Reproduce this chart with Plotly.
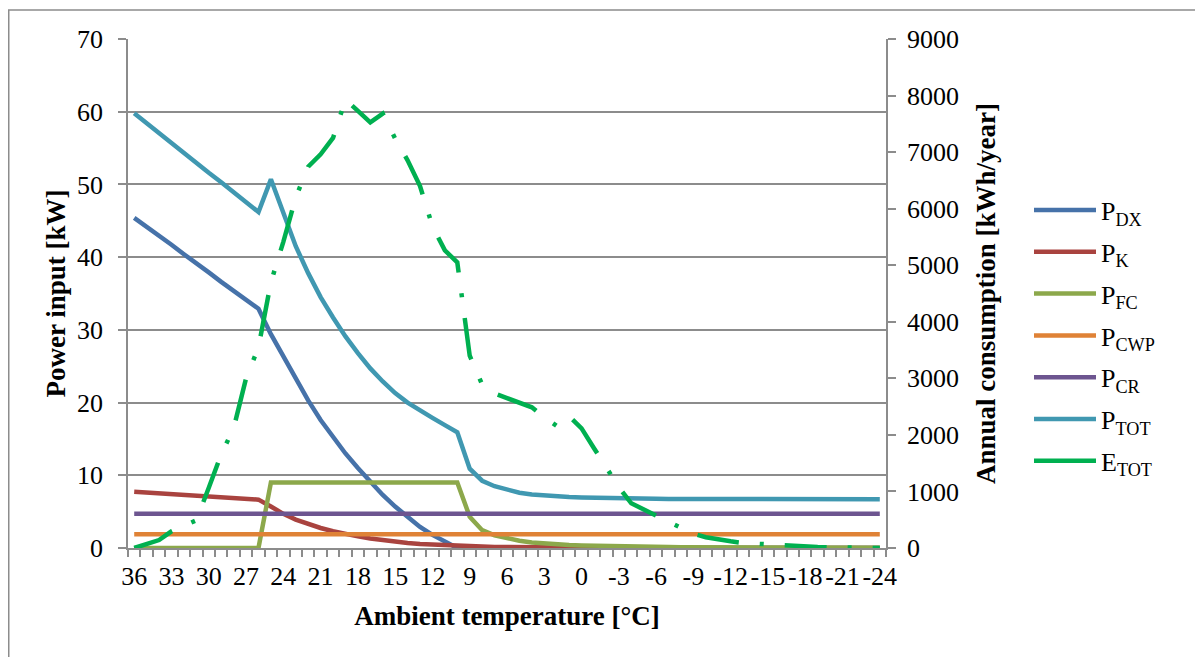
import plotly.graph_objects as go

# ---------------- data ----------------
temps = [36, 35, 34, 33, 32, 31, 30, 29, 28, 27, 26,
         25, 24, 23, 22, 21, 20, 19, 18, 17, 16, 15, 14, 13, 12, 11, 10,
         9, 8, 7, 6, 5, 4, 3, 2, 1, 0,
         -1, -2, -3, -4, -5, -6, -7, -8, -9, -10, -11, -12,
         -13, -14, -15, -16, -17, -18, -19, -20, -21, -22, -23, -24]

tick_vals = [36, 33, 30, 27, 24, 21, 18, 15, 12, 9, 6, 3, 0,
             -3, -6, -9, -12, -15, -18, -21, -24]
tick_text = ["36", "33", "30", "27", "24", "21", "18", "15", "12", "9", "6", "3", "0",
             "-3", "-6", "-9", "-12", "-15", "-18", "-21", "-24"]

p_dx = [45.4, 44.2, 42.9, 41.7, 40.4, 39.2, 37.9, 36.6, 35.4, 34.1, 32.9,
        29.4, 26.3, 23.2, 20.3, 17.6, 15.2, 13.0, 11.0, 9.1, 7.3, 5.7, 4.2, 2.9, 1.8, 0.85, 0.0,
        0, 0, 0, 0, 0, 0, 0, 0, 0, 0,
        0, 0, 0, 0, 0, 0, 0, 0, 0, 0, 0, 0,
        0, 0, 0, 0, 0, 0, 0, 0, 0, 0, 0, 0]

p_k = [7.75, 7.64, 7.53, 7.42, 7.31, 7.2, 7.09, 6.98, 6.87, 6.76, 6.65,
       5.7, 4.7, 3.9, 3.3, 2.75, 2.3, 1.9, 1.6, 1.3, 1.05, 0.85, 0.7, 0.55, 0.45, 0.35, 0.3,
       0.25, 0.2, 0.15, 0.12, 0.1, 0.08, 0.06, 0.05, 0.04, 0.03,
       0.03, 0.02, 0.02, 0.02, 0.01, 0.01, 0.01, 0.01, 0.01, 0.01, 0.01, 0.01,
       0, 0, 0, 0, 0, 0, 0, 0, 0, 0, 0, 0]

p_fc = [0, 0, 0, 0, 0, 0, 0, 0, 0, 0, 0,
        9, 9, 9, 9, 9, 9, 9, 9, 9, 9, 9, 9, 9, 9, 9, 9,
        4.3, 2.45, 1.75, 1.3, 1.0, 0.75, 0.6, 0.5, 0.42, 0.36,
        0.31, 0.27, 0.23, 0.2, 0.17, 0.15, 0.13, 0.12, 0.11, 0.1, 0.09, 0.08,
        0.07, 0.06, 0.06, 0.05, 0.05, 0.05, 0.04, 0.04, 0.04, 0.04, 0.03, 0.03]

p_cwp = [1.9] * 61
p_cr = [4.7] * 61

p_tot = [59.8, 58.4, 57.1, 55.7, 54.4, 53.0, 51.6, 50.3, 48.9, 47.6, 46.2,
         50.7, 45.9, 41.5, 37.8, 34.5, 31.7, 29.1, 26.8, 24.7, 22.9, 21.3, 20.0, 18.9, 17.9, 16.9, 15.9,
         10.9, 9.25, 8.5, 8.0, 7.6, 7.35, 7.2, 7.1, 7.0, 6.95,
         6.9, 6.86, 6.83, 6.8, 6.78, 6.76, 6.75, 6.74, 6.73, 6.72, 6.72, 6.71,
         6.71, 6.7, 6.7, 6.7, 6.7, 6.7, 6.7, 6.7, 6.7, 6.7, 6.7, 6.7]

e_tot = [0, 70, 140, 295, 390, 490, 1064, 1657, 2116, 3000, 3550,
         4700, 5413, 6200, 6743, 6960, 7250, 7930, 7730, 7527, 7680, 7240, 6855, 6400, 5690, 5263, 5050,
         3400, 2890, 2735, 2650, 2560, 2487, 2310, 2160, 2330, 2115,
         1765, 1410, 1075, 790, 684, 566, 463, 357, 251, 190, 148, 118,
         88, 74, 60, 48, 39, 25, 18, 12, 9, 5, 3, 0]

series_names = ["P<sub>DX</sub>", "P<sub>K</sub>", "P<sub>FC</sub>", "P<sub>CWP</sub>",
                "P<sub>CR</sub>", "P<sub>TOT</sub>"]
series_vals = [p_dx, p_k, p_fc, p_cwp, p_cr, p_tot]
series_colors = ["#4672A9", "#A9433F", "#8CA84B", "#DF8236", "#6D5590", "#4098B1"]
etot_color = "#00B050"

# ---------------- figure ----------------
FONT = "Liberation Serif, Times New Roman, serif"
GRID = "#8C8C8C"
# page body has an 8px margin, so the figure is 8px smaller than the window
W, H = 1195, 649
L, T = 120, 31
PW, PH = 758, 509

fig = go.Figure()
for name, vals, col in zip(series_names, series_vals, series_colors):
    fig.add_trace(go.Scatter(x=temps, y=vals, mode="lines", name=name,
                             legendgroup=name,
                             line=dict(color=col, width=4.5, shape="linear"),
                             yaxis="y"))

# E_TOT: dash-dot line on the secondary axis
fig.add_trace(go.Scatter(x=temps, y=e_tot, mode="lines", name="E<sub>TOT</sub>",
                         legendgroup="etot", showlegend=False,
                         line=dict(color=etot_color, width=4.5, dash="42px,21px,4px,21px"),
                         yaxis="y2"))
# legend key for E_TOT (a single dash, as in the reference legend)
fig.add_trace(go.Scatter(x=[None], y=[None], mode="lines", name="E<sub>TOT</sub>",
                         legendgroup="etot", showlegend=True,
                         line=dict(color=etot_color, width=4.5), yaxis="y2",
                         hoverinfo="skip"))

fig.update_layout(
    width=W, height=H,
    margin=dict(l=L, r=W - L - PW, t=T, b=H - T - PH, pad=0),
    paper_bgcolor="white", plot_bgcolor="white",
    font=dict(family=FONT, size=26, color="black"),
    showlegend=True,
    legend=dict(x=(1029 - 128) / PW, y=0.71, xanchor="left", yanchor="top",
                font=dict(family=FONT, size=26, color="black"),
                itemwidth=62,
                tracegroupgap=5, bgcolor="rgba(0,0,0,0)"),
    xaxis=dict(range=[36.5, -24.5], tickmode="array", tickvals=tick_vals, ticktext=tick_text,
               ticks="", showgrid=False, zeroline=False,
               showline=True, linecolor=GRID, linewidth=1.5,
               tickfont=dict(family=FONT, size=26),
               ticklabelstandoff=4,
               minor=dict(ticks="outside", ticklen=7, tickcolor=GRID, tickwidth=1.5,
                          tickmode="linear", tick0=0.5, dtick=1, showgrid=False),
               title=dict(text="<b>Ambient temperature [°C]</b>",
                          font=dict(family=FONT, size=27), standoff=16)),
    yaxis=dict(range=[0, 70], tickmode="linear", tick0=0, dtick=10,
               showgrid=True, gridcolor=GRID, gridwidth=1.5, zeroline=False,
               showline=True, linecolor=GRID, linewidth=1.5,
               ticks="outside", ticklen=8, tickcolor=GRID, tickwidth=1.5,
               tickfont=dict(family=FONT, size=26),
               ticklabelstandoff=10,
               title=dict(text="<b>Power input [kW]</b>",
                          font=dict(family=FONT, size=27), standoff=4)),
    yaxis2=dict(range=[0, 9000], tickmode="linear", tick0=0, dtick=1000,
                overlaying="y", side="right", showgrid=False, zeroline=False,
                showline=True, linecolor=GRID, linewidth=1.5,
                ticks="outside", ticklen=8, tickcolor=GRID, tickwidth=1.5,
                tickfont=dict(family=FONT, size=26),
                ticklabelstandoff=6,
                title=dict(text="<b>Annual consumption [kWh/year]</b>",
                           font=dict(family=FONT, size=27), standoff=18)),
)

# outer chart frame (its right and bottom sides lie outside the picture)
fig.add_shape(type="rect", xref="paper", yref="paper",
              x0=(0.75 - L) / PW, x1=(1215 - 128) / PW,
              y0=(548 - 680) / PH, y1=(548 - 10) / PH,
              line=dict(color="#8C8C8C", width=1.5), fillcolor="rgba(0,0,0,0)", layer="below")

fig.write_html("out.html")
